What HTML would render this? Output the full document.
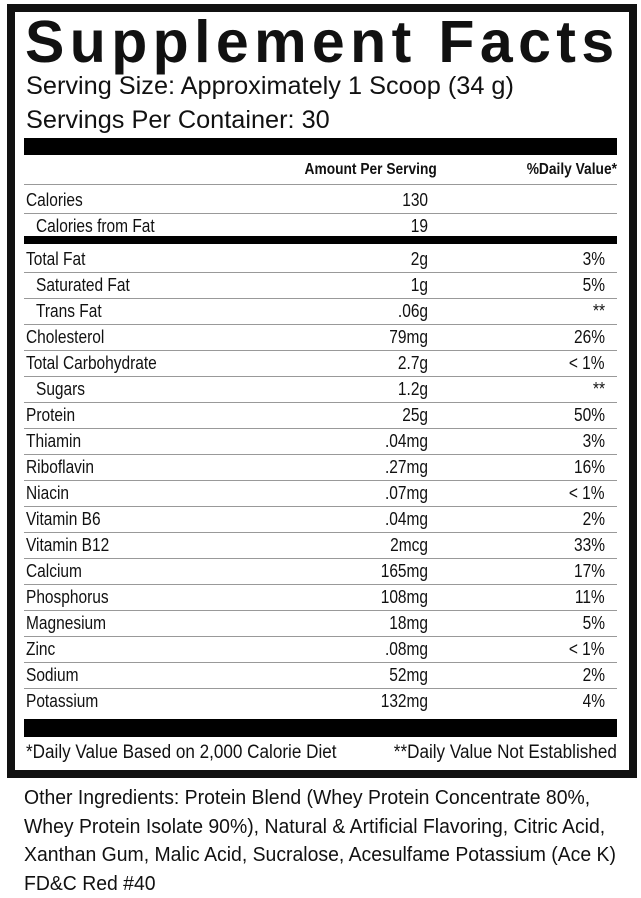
<!DOCTYPE html>
<html><head><meta charset="utf-8"><style>
body{margin:0;width:641px;height:889px;background:#fff;position:relative;overflow:hidden;font-family:"Liberation Sans",sans-serif;color:#111}
.abs{position:absolute}
.box{left:7px;top:4px;width:614px;height:758px;border:8px solid #111}
.t{position:absolute;white-space:nowrap;font-size:18px;line-height:26px;transform:scaleX(0.86);}
.l{transform-origin:left center}
.r{transform-origin:right center;text-align:right}
.line{position:absolute;left:24px;width:593px;height:1px;background:#999}
.bar{position:absolute;left:24px;width:593px;background:#000}
</style></head><body>
<div class="abs box"></div>
<div class="abs" style="left:25px;top:9px;font-size:59px;font-weight:bold;letter-spacing:5.4px;line-height:66px;white-space:nowrap">Supplement Facts</div>
<div class="abs" style="left:26px;top:71px;font-size:25.3px;line-height:30px;white-space:nowrap">Serving Size: Approximately 1 Scoop (34 g)</div>
<div class="abs" style="left:26px;top:105px;font-size:25.3px;line-height:30px;white-space:nowrap">Servings Per Container: 30</div>
<div class="bar" style="top:138px;height:17px"></div>
<div class="t r" style="right:204px;top:157px;font-weight:bold;font-size:16px">Amount Per Serving</div>
<div class="t r" style="right:24px;top:157px;font-weight:bold;font-size:16px">%Daily Value*</div>
<div class="line" style="top:184px"></div>
<div class="t l" style="left:26px;top:187px">Calories</div>
<div class="t r" style="right:213px;top:187px">130</div>
<div class="line" style="top:213px"></div>
<div class="t l" style="left:36px;top:213px">Calories from Fat</div>
<div class="t r" style="right:213px;top:213px">19</div>
<div class="bar" style="top:236px;height:8px"></div>
<div id="rows"></div>
<div class="bar" style="top:719px;height:18px"></div>
<div class="t l" style="left:26px;top:740px;font-size:19px;transform:scaleX(0.9)">*Daily Value Based on 2,000 Calorie Diet</div>
<div class="t r" style="right:24px;top:740px;font-size:19px;transform:scaleX(0.9)">**Daily Value Not Established</div>
<div class="abs" style="left:24px;top:784px;font-size:20px;line-height:28.5px;width:610px;transform:scaleX(0.97);transform-origin:left top;white-space:nowrap">Other Ingredients: Protein Blend (Whey Protein Concentrate 80%,<br>Whey Protein Isolate 90%), Natural &amp; Artificial Flavoring, Citric Acid,<br>Xanthan Gum, Malic Acid, Sucralose, Acesulfame Potassium (Ace K)<br>FD&amp;C Red #40</div>
<script>
var d=[["Total Fat","2g","3%"],[" Saturated Fat","1g","5%"],[" Trans Fat",".06g","**"],["Cholesterol","79mg","26%"],["Total Carbohydrate","2.7g","< 1%"],[" Sugars","1.2g","**"],["Protein","25g","50%"],["Thiamin",".04mg","3%"],["Riboflavin",".27mg","16%"],["Niacin",".07mg","< 1%"],["Vitamin B6",".04mg","2%"],["Vitamin B12","2mcg","33%"],["Calcium","165mg","17%"],["Phosphorus","108mg","11%"],["Magnesium","18mg","5%"],["Zinc",".08mg","< 1%"],["Sodium","52mg","2%"],["Potassium","132mg","4%"]];
var h="";d.forEach(function(r,k){var t=246+26*k;var ind=r[0][0]==" ";h+='<div class="t l" style="left:'+(ind?36:26)+'px;top:'+t+'px">'+r[0].trim()+'</div><div class="t r" style="right:213px;top:'+t+'px">'+r[1]+'</div><div class="t r" style="right:36px;top:'+t+'px">'+r[2].replace("<","&lt;")+'</div>';if(k<17)h+='<div class="line" style="top:'+(t+26)+'px"></div>';});
document.getElementById("rows").outerHTML=h;
</script>
</body></html>
